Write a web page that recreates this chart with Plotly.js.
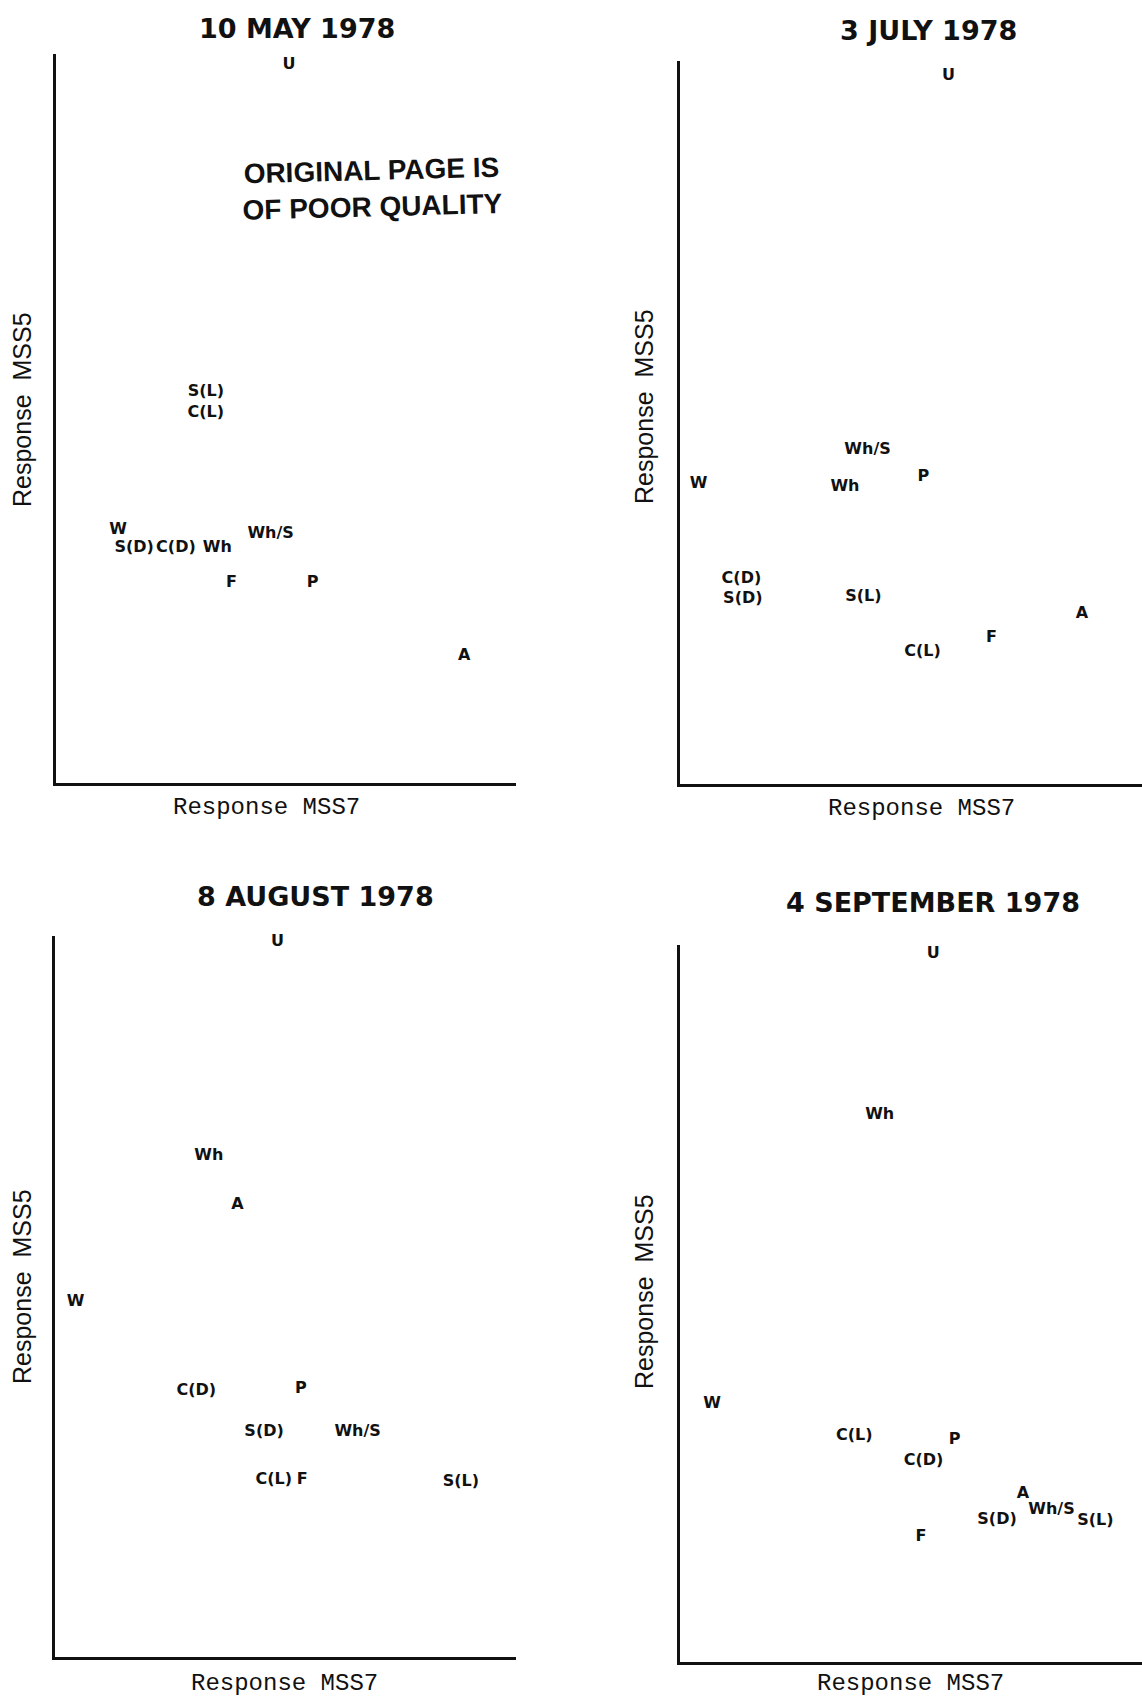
<!DOCTYPE html>
<html>
<head>
<meta charset="utf-8">
<script src="https://cdn.plot.ly/plotly-3.0.1.min.js"></script>
<style>
  html, body { margin: 0; padding: 0; background: #ffffff; }
  #chart { width: 1142px; height: 1700px; }
</style>
</head>
<body>
<div id="chart"></div>
<script>
// ---- Data (relative responses; axes are unscaled 0-100) ----
const panelTitles = ["10 MAY 1978", "3 JULY 1978", "8 AUGUST 1978", "4 SEPTEMBER 1978"];
const xTitle = "Response MSS7";
const yTitle = "Response\u00A0 MSS5";
const stampText = "ORIGINAL PAGE IS<br>OF POOR QUALITY";

const mayLabels = ["U", "S(L)", "C(L)", "W", "S(D)", "C(D)", "Wh", "Wh/S", "F", "P", "A"];
const mayMSS7   = [50.6, 32.5, 32.5, 13.4, 16.9, 26.0, 35.0, 46.6, 38.1, 55.7, 88.7];
const mayMSS5   = [98.5, 53.7, 50.7, 34.7, 32.3, 32.3, 32.3, 34.2, 27.4, 27.4, 17.4];

const julLabels = ["U", "Wh/S", "W", "Wh", "P", "C(D)", "S(D)", "S(L)", "C(L)", "F", "A"];
const julMSS7   = [58.1, 40.6, 4.0, 35.7, 52.7, 13.3, 13.6, 39.7, 52.5, 67.4, 87.0];
const julMSS5   = [97.9, 46.2, 41.5, 41.1, 42.4, 28.3, 25.6, 25.8, 18.3, 20.2, 23.5];

const augLabels = ["U", "Wh", "A", "W", "C(D)", "P", "S(D)", "Wh/S", "C(L)", "F", "S(L)"];
const augMSS7   = [48.2, 33.3, 39.5, 4.4, 30.6, 53.3, 45.3, 65.6, 47.4, 53.6, 88.0];
const augMSS5   = [99.1, 69.5, 62.6, 49.2, 36.9, 37.2, 31.2, 31.2, 24.6, 24.6, 24.3];

const sepLabels = ["U", "Wh", "W", "C(L)", "P", "C(D)", "A", "Wh/S", "S(D)", "S(L)", "F"];
const sepMSS7   = [54.8, 43.2, 6.9, 37.7, 59.4, 52.7, 74.2, 80.4, 68.6, 89.9, 52.1];
const sepMSS5   = [98.7, 76.3, 35.9, 31.4, 30.9, 27.9, 23.3, 21.1, 19.8, 19.6, 17.3];

// ---- Styling ----
const W = 1142, H = 1700;
const ink = "#111111";
const heavy = "DejaVu Sans, Liberation Sans, Arial, sans-serif";
const labelFont = { family: heavy, size: 16, color: ink, weight: 700 };

function textTrace(labels, xs, ys, xa, ya) {
  return {
    type: "scatter", mode: "text",
    x: xs, y: ys, text: labels,
    textposition: "middle center",
    textfont: labelFont,
    cliponaxis: false,
    hoverinfo: "skip",
    xaxis: xa, yaxis: ya
  };
}

const traces = [
  textTrace(mayLabels, mayMSS7, mayMSS5, "x", "y"),
  textTrace(julLabels, julMSS7, julMSS5, "x2", "y2"),
  textTrace(augLabels, augMSS7, augMSS5, "x3", "y3"),
  textTrace(sepLabels, sepMSS7, sepMSS5, "x4", "y4")
];

// panel boxes in pixels [left, right, top, bottom]
const boxes = [
  [56.4, 516.2, 54.2, 783.0],
  [680.0, 1142.0, 60.7, 784.0],
  [55.3, 516.2, 935.6, 1657.0],
  [680.3, 1142.0, 944.6, 1661.5]
];

function axis(dom) {
  return {
    domain: dom, range: [0, 100],
    showgrid: false, zeroline: false, showticklabels: false, ticks: "",
    showline: true, linecolor: ink, linewidth: 3,
    fixedrange: true
  };
}

const layout = {
  width: W, height: H,
  margin: { l: 0, r: 0, t: 0, b: 0, pad: 0 },
  paper_bgcolor: "#ffffff", plot_bgcolor: "rgba(0,0,0,0)",
  showlegend: false,
  annotations: []
};

boxes.forEach((b, i) => {
  const n = i === 0 ? "" : String(i + 1);
  layout["xaxis" + n] = axis([b[0] / W, b[1] / W]);
  layout["yaxis" + n] = axis([1 - b[3] / H, 1 - b[2] / H]);
  layout["xaxis" + n].anchor = "y" + n;
  layout["yaxis" + n].anchor = "x" + n;
});

// text positions in pixels
const titlePos  = [[297, 28], [928, 31], [315, 897], [933, 902]];
const xTitlePos = [[266, 807], [921, 809], [284, 1683], [910, 1683]];
const yTitlePos = [[22, 410], [644, 407], [22, 1287], [644, 1292]];

function px(x) { return x / W; }
function py(y) { return 1 - y / H; }

for (let i = 0; i < 4; i++) {
  layout.annotations.push({
    xref: "paper", yref: "paper", x: px(titlePos[i][0]), y: py(titlePos[i][1]),
    xanchor: "center", yanchor: "middle", showarrow: false,
    text: panelTitles[i],
    font: { family: heavy, size: 27, color: ink, weight: 700 }
  });
  layout.annotations.push({
    xref: "paper", yref: "paper", x: px(xTitlePos[i][0]), y: py(xTitlePos[i][1]),
    xanchor: "center", yanchor: "middle", showarrow: false,
    text: xTitle,
    font: { family: "Liberation Mono, Courier New, monospace", size: 24, color: ink }
  });
  layout.annotations.push({
    xref: "paper", yref: "paper", x: px(yTitlePos[i][0]), y: py(yTitlePos[i][1]),
    xanchor: "center", yanchor: "middle", showarrow: false, textangle: -90,
    text: yTitle,
    font: { family: "Liberation Sans, Arial, sans-serif", size: 25, color: ink }
  });
}

layout.annotations.push({
  xref: "paper", yref: "paper", x: px(372), y: py(188),
  xanchor: "center", yanchor: "middle", showarrow: false,
  text: stampText, align: "center", textangle: -1.5,
  font: { family: "Liberation Sans, Arial, sans-serif", size: 28, color: ink, weight: 700 }
});

Plotly.newPlot("chart", traces, layout, { staticPlot: true, displayModeBar: false });
</script>
</body>
</html>
